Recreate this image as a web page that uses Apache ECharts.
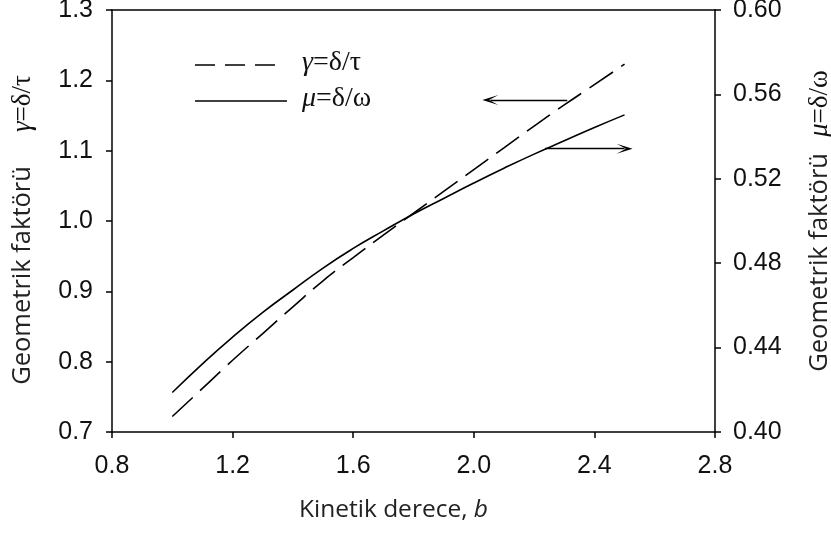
<!DOCTYPE html>
<html><head><meta charset="utf-8">
<script src="https://cdn.jsdelivr.net/npm/echarts@6/dist/echarts.min.js"></script>
<style>html,body{margin:0;padding:0;background:#fff}#c{width:831px;height:533px}</style>
</head><body><div id="c"></div>
<script>
// ---- data ----
const bValues     = [1.0, 1.1, 1.2, 1.3, 1.4, 1.5, 1.6, 1.7, 1.8, 1.9, 2.0, 2.1, 2.2, 2.3, 2.4, 2.5];
const gammaValues = [0.722, 0.762, 0.802, 0.840, 0.878, 0.915, 0.948, 0.980, 1.011, 1.042, 1.073, 1.104, 1.135, 1.165, 1.194, 1.223];
const muValues    = [0.4187, 0.4323, 0.4450, 0.4567, 0.4673, 0.4777, 0.4870, 0.4953, 0.5033, 0.5107, 0.5180, 0.5250, 0.5317, 0.5380, 0.5443, 0.5503];
const xTickLabels     = ['0.8', '1.2', '1.6', '2.0', '2.4', '2.8'];
const leftTickLabels  = ['0.7', '0.8', '0.9', '1.0', '1.1', '1.2', '1.3'];
const rightTickLabels = ['0.40', '0.44', '0.48', '0.52', '0.56', '0.60'];
// annotation arrows (data coordinates)
const gammaArrow = [[2.31, 1.172], [2.055, 1.172]];
const muArrow    = [[2.236, 0.5343], [2.50, 0.5343]];

const toNum = a => a.map(Number);
const xs = toNum(xTickLabels), ls = toNum(leftTickLabels), rs = toNum(rightTickLabels);

const chart = echarts.init(document.getElementById('c'), null, {renderer: 'canvas'});
const sans = 'Liberation Sans, Arial, sans-serif';
const human = 'Open Sans, Noto Sans, sans-serif';
const serif = 'Liberation Serif, Times New Roman, serif';
const black = '#000';
const arrowSym = 'path://M0,12 L5,0 L10,12 L5,5 Z';
const TICK = 25, YT = 25.5, YM = 27, XT = 24.5, LG = 28;

const axisCommon = {
  axisLine: {show: true, lineStyle: {color: black, width: 1.5}},
  axisTick: {show: true, inside: false, length: 6, lineStyle: {color: black, width: 1.5}},
  splitLine: {show: false},
  axisLabel: {color: '#111', fontFamily: sans, fontSize: TICK}
};
const yRich = (sp, pad) => ({
  fontSize: YT, fontFamily: human, padding: pad,
  rich: {
    a: {fontFamily: human, fontSize: YT, color: '#222'},
    s: {fontFamily: human, fontSize: YT, width: sp},
    g: {fontFamily: serif, fontSize: YM, fontStyle: 'italic', color: '#111'},
    b: {fontFamily: serif, fontSize: YM, color: '#111'}
  }
});

chart.setOption({
  animation: false,
  backgroundColor: '#fff',
  grid: {left: 112, right: 116, top: 10, bottom: 101, containLabel: false, outerBoundsMode: 'none'},
  xAxis: [
    Object.assign({}, axisCommon, {
      type: 'value', position: 'bottom', min: xs[0], max: xs[xs.length - 1], interval: 0.4,
      axisLabel: Object.assign({}, axisCommon.axisLabel, {margin: 22, formatter: v => v.toFixed(1)}),
      name: '{a|Kinetik derece, }{b|b}', nameLocation: 'middle', nameGap: 66,
      nameTextStyle: {fontSize: XT, fontFamily: human, padding: [0, 40, 0, 0], rich: {
        a: {fontFamily: human, fontSize: XT, color: '#222'},
        b: {fontFamily: human, fontSize: XT, fontStyle: 'italic', color: '#222'}
      }}
    }),
    {
      type: 'value', position: 'top', min: xs[0], max: xs[xs.length - 1],
      axisLine: {show: true, lineStyle: {color: black, width: 1.5}},
      axisTick: {show: false}, axisLabel: {show: false}, splitLine: {show: false}
    }
  ],
  yAxis: [
    Object.assign({}, axisCommon, {
      type: 'value', position: 'left', min: ls[0], max: ls[ls.length - 1], interval: 0.1,
      axisLabel: Object.assign({}, axisCommon.axisLabel, {margin: 19, formatter: v => v.toFixed(1)}),
      name: '{a|Geometrik faktörü}{s| }{g|γ}{b|=δ/τ}', nameLocation: 'middle', nameGap: 76, nameRotate: 90,
      nameTextStyle: yRich(34, [0, 18, 0, 0])
    }),
    Object.assign({}, axisCommon, {
      type: 'value', position: 'right', min: rs[0], max: rs[rs.length - 1], interval: 0.04,
      axisLabel: Object.assign({}, axisCommon.axisLabel, {margin: 18, formatter: v => v.toFixed(2)}),
      name: '{a|Geometrik faktörü}{s| }{g|μ}{b|=δ/ω}', nameLocation: 'middle', nameGap: 91, nameRotate: 90,
      nameTextStyle: yRich(16, [0, 0, 0, 0])
    })
  ],
  series: [
    {
      name: 'γ=δ/τ', type: 'line', xAxisIndex: 0, yAxisIndex: 0, smooth: true, showSymbol: false,
      data: bValues.map((b, i) => [b, gammaValues[i]]),
      lineStyle: {color: black, width: 1.6, type: [28, 10]},
      markLine: {
        silent: true, animation: false, symbol: ['none', arrowSym], symbolSize: [10, 16],
        label: {show: false}, lineStyle: {color: black, width: 1.3, type: 'solid'},
        data: [[{coord: gammaArrow[0]}, {coord: gammaArrow[1]}]]
      }
    },
    {
      name: 'μ=δ/ω', type: 'line', xAxisIndex: 0, yAxisIndex: 1, smooth: true, showSymbol: false,
      data: bValues.map((b, i) => [b, muValues[i]]),
      lineStyle: {color: black, width: 1.6, type: 'solid'},
      markLine: {
        silent: true, animation: false, symbol: ['none', arrowSym], symbolSize: [10, 16],
        label: {show: false}, lineStyle: {color: black, width: 1.3, type: 'solid'},
        data: [[{coord: muArrow[0]}, {coord: muArrow[1]}]]
      }
    }
  ],
  graphic: [
    {type: 'line', shape: {x1: 195, y1: 65, x2: 278, y2: 65}, style: {stroke: black, lineWidth: 1.6, lineDash: [20, 10]}},
    {type: 'text', left: 302, top: 49, style: {text: '{g|γ}{b|=δ/τ}', rich: {
      g: {fontFamily: serif, fontSize: LG, fontStyle: 'italic', fill: '#111'},
      b: {fontFamily: serif, fontSize: LG, fill: '#111'}}}},
    {type: 'line', shape: {x1: 195, y1: 101, x2: 287, y2: 101}, style: {stroke: black, lineWidth: 1.6}},
    {type: 'text', left: 302, top: 85, style: {text: '{g|μ}{b|=δ/ω}', rich: {
      g: {fontFamily: serif, fontSize: LG, fontStyle: 'italic', fill: '#111'},
      b: {fontFamily: serif, fontSize: LG, fill: '#111'}}}}
  ]
});
</script></body></html>
